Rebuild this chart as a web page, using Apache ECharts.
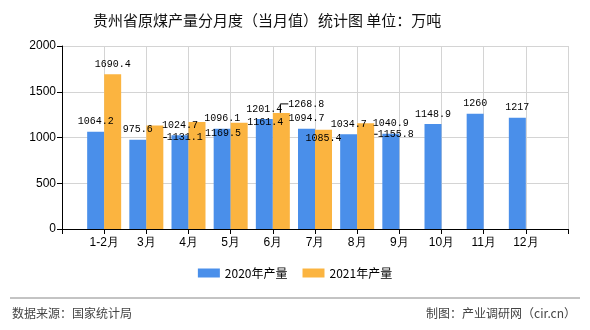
<!DOCTYPE html>
<html>
<head>
<meta charset="utf-8">
<script src="https://cdn.jsdelivr.net/npm/echarts@6/dist/echarts.min.js"></script>
<style>html,body{margin:0;padding:0;background:#fff}#c{width:590px;height:330px}</style>
</head>
<body>
<div id="c"></div>
<script>
var categories = ['', '1-2月', '3月', '4月', '5月', '6月', '7月', '8月', '9月', '10月', '11月', '12月', ''];
var values2020 = [null, 1064.2, 975.6, 1024.7, 1096.1, 1201.4, 1094.7, 1034.7, 1040.9, 1148.9, 1260, 1217, null];
var values2021 = [null, 1690.4, 1131.1, 1169.5, 1161.4, 1268.8, 1085.4, 1155.8, null, null, null, null, null];
var yTicks = [0, 500, 1000, 1500, 2000];

// label nudges for crowded 2021 labels (dataIndex -> [dx, dy, showLine])
var nudge2021 = {2: [30, 22, true], 3: [26, 21, true], 4: [26, 10, false], 5: [25, 1, true], 6: [0, 19, false], 7: [30, 21, true]};

var labelFont = {fontFamily: 'Liberation Mono', fontSize: 10, color: '#000'};

var chart = echarts.init(document.getElementById('c'));
chart.setOption({
  animation: false,
  title: {
    text: '贵州省原煤产量分月度（当月值）统计图 单位：万吨',
    left: 88, top: 8,
    textStyle: {fontSize: 15, fontWeight: 'normal', color: '#111', fontFamily: 'Noto Sans CJK SC'}
  },
  grid: {left: 62, right: 22, top: 46, bottom: 101},
  legend: {
    bottom: 46, left: 'center',
    itemWidth: 22, itemHeight: 9, itemGap: 15,
    icon: 'rect',
    textStyle: {fontSize: 12, color: '#000', fontFamily: 'Noto Sans CJK SC'},
    data: ['2020年产量', '2021年产量']
  },
  xAxis: {
    type: 'category',
    data: categories,
    boundaryGap: false,
    axisLine: {lineStyle: {color: '#000'}},
    axisTick: {show: true, length: 5, lineStyle: {color: '#000'}},
    axisLabel: {color: '#000', fontSize: 12, margin: 8, interval: 0},
    splitLine: {show: true, lineStyle: {color: '#d4d4d4'}}
  },
  yAxis: {
    type: 'value',
    min: yTicks[0], max: yTicks[yTicks.length - 1], interval: 500,
    axisLine: {show: true, lineStyle: {color: '#000'}},
    axisTick: {show: true, length: 5, lineStyle: {color: '#000'}},
    axisLabel: {color: '#000', fontSize: 12, margin: 6, formatter: function (v) { return String(v); }},
    splitLine: {lineStyle: {color: '#d4d4d4'}}
  },
  series: [
    {
      name: '2020年产量', type: 'bar', data: values2020,
      barWidth: 17, barGap: '0%',
      itemStyle: {color: '#4a8fea'},
      label: Object.assign({show: true, position: 'top', distance: 5}, labelFont)
    },
    {
      name: '2021年产量', type: 'bar',
      data: values2021.map(function (v, i) {
        var n = nudge2021[i];
        return {value: v, labelLine: {show: !!(n && n[2])}};
      }),
      barWidth: 17, barGap: '0%',
      itemStyle: {color: '#fbb440'},
      label: Object.assign({show: true, position: 'top', distance: 5}, labelFont),
      labelLine: {show: true, length2: 8, lineStyle: {color: '#000', width: 1}},
      labelLayout: function (p) {
        var n = nudge2021[p.dataIndex];
        return n ? {dx: n[0], dy: n[1]} : {};
      }
    }
  ],
  graphic: [
    {type: 'line', shape: {x1: 10, y1: 298, x2: 580, y2: 298}, style: {stroke: '#888', lineWidth: 1}},
    {type: 'text', left: 12, top: 307, style: {text: '数据来源：国家统计局', fill: '#444', fontSize: 12, fontFamily: 'Noto Sans CJK SC'}},
    {type: 'text', right: 14, top: 307, style: {text: '制图：产业调研网（cir.cn）', fill: '#444', fontSize: 12, fontFamily: 'Noto Sans CJK SC'}}
  ]
});
</script>
</body>
</html>
